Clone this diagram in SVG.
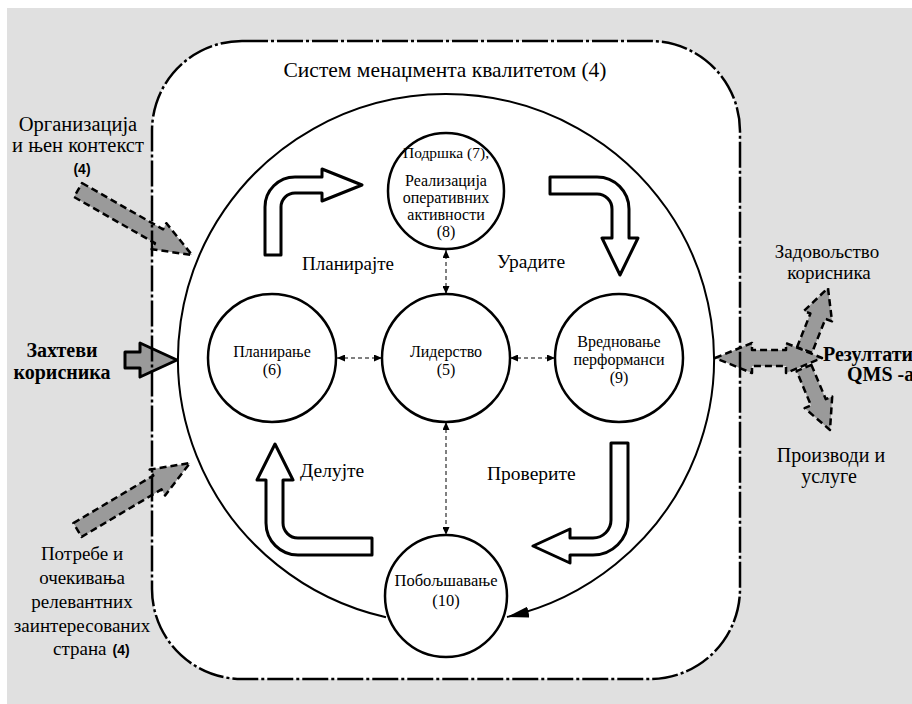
<svg xmlns="http://www.w3.org/2000/svg" width="912" height="704" viewBox="0 0 912 704">
<defs>
<style>
.bg{fill:#e0e0e0}
.inner{fill:#fff}
.frame{fill:none;stroke:#000;stroke-width:2.5;stroke-dasharray:26 3 3 3}
.node{fill:#fff;stroke:#000;stroke-width:2.5}
.cyc{fill:#fff;stroke:#000;stroke-width:3;stroke-linejoin:round}
.ga{fill:#9a9a9a;stroke:#000;stroke-width:2.5;stroke-dasharray:7 4;stroke-linejoin:round}
.gs{fill:#9a9a9a;stroke:#000;stroke-width:3;stroke-linejoin:round}
.conn{fill:none;stroke:#000;stroke-width:1;stroke-dasharray:4 3}
.big{fill:none;stroke:#000;stroke-width:2}
.t{font-family:"Liberation Serif","Times New Roman",serif;fill:#000}
.tb{font-family:"Liberation Serif","Times New Roman",serif;font-weight:bold;fill:#000}
.s{font-family:"Liberation Sans",Arial,sans-serif;font-weight:bold;fill:#000}
</style>
<marker id="sa" markerUnits="userSpaceOnUse" markerWidth="8" markerHeight="7" viewBox="0 0 8 7" refX="8" refY="3.5" orient="auto-start-reverse">
<path d="M0,0 L8,3.5 L0,7 z" fill="#000"/>
</marker>
<marker id="ba" markerUnits="userSpaceOnUse" markerWidth="22" markerHeight="11" viewBox="0 0 22 11" refX="22" refY="5.5" orient="auto">
<path d="M0,0 L22,5.5 L0,11 z" fill="#000"/>
</marker>
</defs>

<rect class="bg" x="7" y="8" width="905" height="696"/>
<rect class="inner" x="152" y="41" width="588" height="638" rx="90" ry="90"/>

<g id="inputs">
<polygon class="ga" points="82,183 163,229.3 166.4,223.2 192,255 151.6,249.2 155,243.2 74,197"/>
<polygon class="gs" points="125,352 140,352 140,343 177,360 140,377 140,368 125,368"/>
<polygon class="ga" points="73.4,523.1 153.3,475.6 149.7,469.6 190,463 165.1,495.4 161.5,489.4 81.6,536.9"/>
</g>
<g id="outputs">
<polygon class="ga" points="797,347.3 810.4,313.5 803.8,311.1 828,288 832,321.3 825.4,318.9 812,352.7"/>
<polygon class="ga" points="811.4,364.9 825.8,399.2 832.2,396.5 830,430 804.6,408.1 811,405.4 796.6,371.1"/>
<polygon class="ga" points="715,358 752,343 752,350 786,350 786,343 822,358 786,373 786,366 752,366 752,373"/>
</g>

<rect class="frame" x="152" y="41" width="588" height="638" rx="90" ry="90"/>

<g id="connectors">
<path class="big" d="M386,617.27 A268,265 0 1 1 507,617.04" marker-end="url(#ba)"/>
<line class="conn" x1="337" y1="358" x2="382" y2="358" marker-start="url(#sa)" marker-end="url(#sa)"/>
<line class="conn" x1="510" y1="358" x2="555" y2="358" marker-start="url(#sa)" marker-end="url(#sa)"/>
<line class="conn" x1="446" y1="294" x2="446" y2="250" marker-start="url(#sa)" marker-end="url(#sa)"/>
<line class="conn" x1="446" y1="422" x2="446" y2="535" marker-start="url(#sa)" marker-end="url(#sa)"/>
</g>

<g id="cycle-arrows">
<path class="cyc" d="M265,255 V207 A30,30 0 0 1 295,177 H322 V169 L362,185 L322,201 V193 H295 A14,14 0 0 0 281,207 V255 Z"/>
<path class="cyc" d="M550,177 H597 A32,32 0 0 1 629,209 V238 H638 L620,275 L602,238 H612 V209 A15,15 0 0 0 597,194 H550 Z"/>
<path class="cyc" d="M611,443 H628 V520 A35,35 0 0 1 593,555 H570 V563 L533,546 L570,529 V538 H593 A18,18 0 0 0 611,520 Z"/>
<path class="cyc" d="M372,555 H298 A32,32 0 0 1 266,523 V480 H257 L275,444 L293,480 H283 V523 A15,15 0 0 0 298,538 H372 Z"/>
</g>

<g id="n-support">
<circle class="node" cx="446" cy="191" r="58"/>
<text class="t" font-size="16" text-anchor="middle"><tspan x="446" y="158" font-size="15.5">Подршка (7),</tspan><tspan x="446" y="186">Реализација</tspan><tspan x="446" y="203">оперативних</tspan><tspan x="446" y="220">активности</tspan><tspan x="446" y="237">(8)</tspan></text>
</g>
<g id="n-planning">
<circle class="node" cx="272" cy="358" r="64"/>
<text class="t" font-size="16" text-anchor="middle"><tspan x="272" y="357">Планирање</tspan><tspan x="272" y="375">(6)</tspan></text>
</g>
<g id="n-leadership">
<circle class="node" cx="446" cy="358" r="64"/>
<text class="t" font-size="16" text-anchor="middle"><tspan x="446" y="357">Лидерство</tspan><tspan x="446" y="375">(5)</tspan></text>
</g>
<g id="n-evaluation">
<circle class="node" cx="619" cy="358" r="64"/>
<text class="t" font-size="16" text-anchor="middle"><tspan x="619" y="347">Вредновање</tspan><tspan x="619" y="365">перформанси</tspan><tspan x="619" y="383">(9)</tspan></text>
</g>
<g id="n-improvement">
<circle class="node" cx="446" cy="596" r="61"/>
<text class="t" font-size="16.5" text-anchor="middle"><tspan x="446" y="586">Побољшавање</tspan><tspan x="446" y="606">(10)</tspan></text>
</g>

<g id="labels">
<text class="t" font-size="21.5" x="445" y="77" text-anchor="middle">Систем менаџмента квалитетом (4)</text>
<text class="t" font-size="19" x="302" y="270">Планирајте</text>
<text class="t" font-size="19.5" x="497" y="268">Урадите</text>
<text class="t" font-size="19.5" x="300" y="477">Делујте</text>
<text class="t" font-size="19.5" x="487" y="480">Проверите</text>

<text class="t" font-size="20.5" text-anchor="middle"><tspan x="78" y="131">Организација</tspan><tspan x="78" y="152">и њен контекст</tspan></text>
<text class="s" font-size="14" x="82" y="174" text-anchor="middle">(4)</text>
<text class="tb" font-size="20" text-anchor="middle"><tspan x="62" y="357">Захтеви</tspan><tspan x="62" y="379">корисника</tspan></text>
<text class="t" font-size="19" text-anchor="middle"><tspan x="82" y="560">Потребе и</tspan><tspan x="82" y="584">очекивања</tspan><tspan x="82" y="608">релевантних</tspan><tspan x="82" y="632">заинтересованих</tspan></text>
<text x="53" y="655"><tspan class="t" font-size="19">страна</tspan><tspan class="s" font-size="14" dx="6">(4)</tspan></text>

<text class="t" font-size="19" text-anchor="middle"><tspan x="827" y="258">Задовољство</tspan><tspan x="829" y="279">корисника</tspan></text>
<text class="tb" font-size="20"><tspan x="823" y="361">Резултати</tspan><tspan x="847" y="381">QMS -а</tspan></text>
<text class="t" font-size="20" text-anchor="middle"><tspan x="831" y="462">Производи и</tspan><tspan x="829" y="483">услуге</tspan></text>
</g>
</svg>
